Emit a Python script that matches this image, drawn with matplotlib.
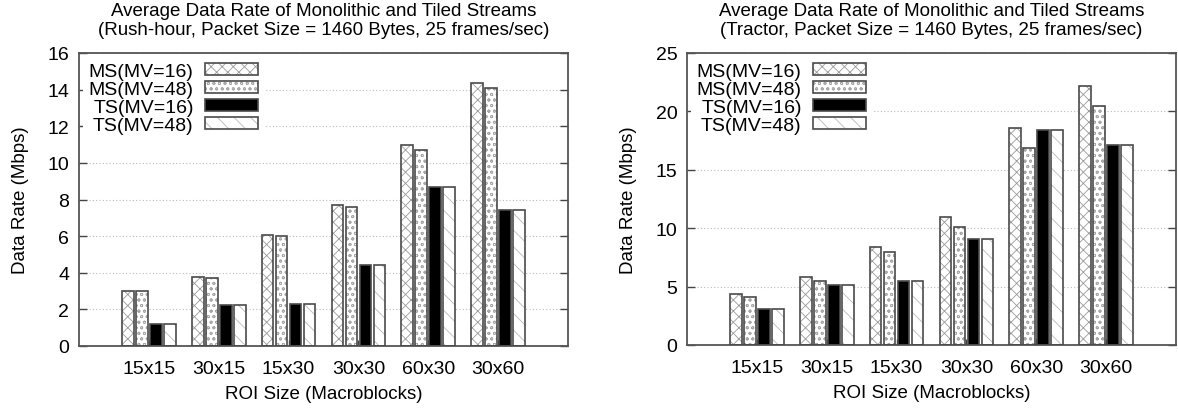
import numpy as np
import matplotlib
matplotlib.use('Agg')
import matplotlib.pyplot as plt
from matplotlib.patches import Patch
from matplotlib.legend_handler import HandlerTuple

plt.rcParams['font.family'] = ['Liberation Sans', 'DejaVu Sans']
plt.rcParams['hatch.linewidth'] = 0.6

# data
roi_sizes = ['15x15', '30x15', '15x30', '30x30', '60x30', '30x60']
series_names = ['MS(MV=16)', 'MS(MV=48)', 'TS(MV=16)', 'TS(MV=48)']

rush_ms16 = [3.0, 3.75, 6.05, 7.7, 10.95, 14.35]
rush_ms48 = [3.0, 3.7, 6.0, 7.6, 10.7, 14.1]
rush_ts16 = [1.2, 2.25, 2.3, 4.45, 8.7, 7.45]
rush_ts48 = [1.2, 2.25, 2.3, 4.45, 8.7, 7.45]

tractor_ms16 = [4.4, 5.8, 8.4, 10.95, 18.6, 22.2]
tractor_ms48 = [4.1, 5.45, 7.95, 10.1, 16.9, 20.5]
tractor_ts16 = [3.1, 5.1, 5.5, 9.05, 18.45, 17.1]
tractor_ts48 = [3.1, 5.1, 5.5, 9.05, 18.45, 17.1]

# styles: (face, hatch, hatch colour)
styles = [('white', 'xxx', '#9a9a9a'),
          ('white', 'ooo', '#a8a8a8'),
          ('black', '', 'black'),
          ('white', '\\\\', '#b8b8b8')]
edge = '#4a4a4a'


def draw_panel(ax, title, values, ymax, ystep):
    x = np.arange(len(roi_sizes))
    step = 0.2
    width = 0.167
    handles = []
    for i, (vals, (fc, hatch, hc)) in enumerate(zip(values, styles)):
        pos = x + (i - 1.5) * step
        ax.bar(pos, vals, width, color=fc, hatch=hatch, edgecolor=hc,
               linewidth=0, zorder=2)
        ax.bar(pos, vals, width, fill=False, edgecolor=edge,
               linewidth=1.2, zorder=3)
        h1 = Patch(facecolor=fc, hatch=hatch, edgecolor=hc, linewidth=0)
        h2 = Patch(fill=False, edgecolor=edge, linewidth=1.2)
        handles.append((h1, h2))

    ax.set_xlim(-1, 6)
    ax.set_ylim(0, ymax)
    ax.set_yticks(np.arange(0, ymax + 0.1, ystep))
    ax.set_xticks(x)
    ax.set_xticklabels(roi_sizes)
    ax.tick_params(axis='y', direction='in', length=6, width=1, colors='#444444',
                   labelcolor='black', labelsize=14, pad=7, right=True)
    ax.tick_params(axis='x', direction='in', length=4, width=1, colors='#444444',
                   labelcolor='black', labelsize=14, pad=10)
    ax.set_axisbelow(True)
    ax.yaxis.grid(True, linestyle=(0, (1, 2)), color='#bbbbbb', linewidth=0.8)
    for s in ax.spines.values():
        s.set_color('#555555')
        s.set_linewidth(1.3)

    ax.set_title(title, fontsize=13.5, pad=14, linespacing=1.12)
    ax.set_xlabel('ROI Size (Macroblocks)', fontsize=13.5, labelpad=6)
    ax.set_ylabel('Data Rate (Mbps)', fontsize=13.5, labelpad=13)

    leg = ax.legend(handles, series_names, loc='upper left',
                    handler_map={tuple: HandlerTuple(ndivide=1)},
                    markerfirst=False, fontsize=14, handlelength=2.7,
                    handleheight=0.55, labelspacing=0.05, handletextpad=0.6,
                    borderaxespad=0.2, borderpad=0.3,
                    frameon=True, fancybox=False, framealpha=1)
    leg.get_frame().set_edgecolor('none')
    leg.get_frame().set_facecolor('white')
    leg.set_zorder(5)


fig = plt.figure(figsize=(11.78, 4.10), dpi=100)
ax1 = fig.add_axes([79 / 1178, 63 / 410, 489 / 1178, 293 / 410])
ax2 = fig.add_axes([687 / 1178, 64 / 410, 489 / 1178, 292 / 410])

draw_panel(ax1, 'Average Data Rate of Monolithic and Tiled Streams\n'
                '(Rush-hour, Packet Size = 1460 Bytes, 25 frames/sec)',
           [rush_ms16, rush_ms48, rush_ts16, rush_ts48], 16, 2)
draw_panel(ax2, 'Average Data Rate of Monolithic and Tiled Streams\n'
                '(Tractor, Packet Size = 1460 Bytes, 25 frames/sec)',
           [tractor_ms16, tractor_ms48, tractor_ts16, tractor_ts48], 25, 5)

fig.savefig('out.png', dpi=100)
